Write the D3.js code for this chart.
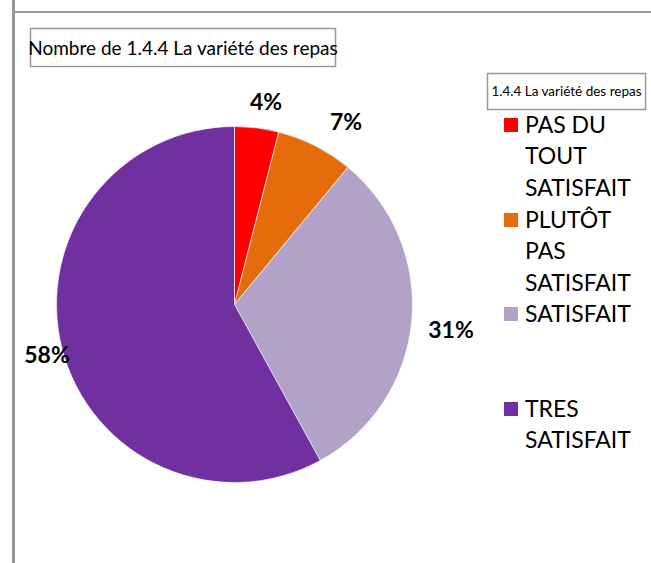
<!DOCTYPE html>
<html>
<head>
<meta charset="utf-8">
<script src="https://cdn.jsdelivr.net/npm/d3@7"></script>
<style>
  html, body { margin: 0; padding: 0; background: #fff; }
  svg { display: block; }
</style>
</head>
<body>
<svg id="chart" width="651" height="563"></svg>
<script>
const categories = ["PAS DU TOUT SATISFAIT", "PLUTÔT PAS SATISFAIT", "SATISFAIT", "TRES SATISFAIT"];
const legendLines = [["PAS DU", "TOUT", "SATISFAIT"], ["PLUTÔT", "PAS", "SATISFAIT"], ["SATISFAIT"], ["TRES", "SATISFAIT"]];
const values = [4, 7, 31, 58];
const labels = ["4%", "7%", "31%", "58%"];
const colors = ["#FF0000", "#E46C0A", "#B3A2C7", "#7030A0"];
const title = "Nombre de 1.4.4 La variété des repas";
const legendTitle = "1.4.4 La variété des repas";

const svg = d3.select("#chart");
const font = "Lato, 'Open Sans', sans-serif";

// frame lines
svg.append("rect").attr("x", 12).attr("y", 0).attr("width", 3).attr("height", 563).attr("fill", "#999");
svg.append("rect").attr("x", 15).attr("y", 11).attr("width", 636).attr("height", 2).attr("fill", "#999");

// title
svg.append("rect").attr("x", 30.5).attr("y", 28.5).attr("width", 305).attr("height", 38)
  .attr("fill", "#fff").attr("stroke", "#999").attr("stroke-width", 1.5);
svg.append("text").attr("x", 183).attr("y", 55).attr("text-anchor", "middle")
  .attr("font-family", font).attr("font-size", 19).attr("fill", "#000").text(title);

// pie
const cx = 234.5, cy = 304.5, r = 178;
const pie = d3.pie().sort(null).value(d => d)(values);
const arc = d3.arc().innerRadius(0).outerRadius(r);
const g = svg.append("g").attr("transform", `translate(${cx},${cy})`);
g.selectAll("path").data(pie).join("path")
  .attr("d", arc)
  .attr("fill", (d, i) => colors[i])
  .attr("stroke", "#fff").attr("stroke-width", 0.6);

// data labels
const labelPos = [[266, 102], [346, 122], [451, 330], [47, 355]];
svg.selectAll("text.lbl").data(pie).join("text").attr("class", "lbl")
  .attr("x", (d, i) => labelPos[i][0])
  .attr("y", (d, i) => labelPos[i][1] + 8)
  .attr("text-anchor", "middle")
  .attr("font-family", font).attr("font-weight", "bold").attr("font-size", 23)
  .attr("fill", "#000").text((d, i) => labels[i]);

// legend
svg.append("rect").attr("x", 487.5).attr("y", 73.5).attr("width", 158).attr("height", 36)
  .attr("fill", "#fff").attr("stroke", "#999").attr("stroke-width", 1.5);
svg.append("text").attr("x", 566.5).attr("y", 96).attr("text-anchor", "middle")
  .attr("font-family", font).attr("font-size", 13.5).attr("fill", "#000").text(legendTitle);

const squareY = [118, 213, 307, 402];
const lineH = 31.5;
const lg = svg.append("g");
categories.forEach((c, i) => {
  lg.append("rect").attr("x", 504).attr("y", squareY[i]).attr("width", 14).attr("height", 14).attr("fill", colors[i]);
  legendLines[i].forEach((ln, j) => {
    lg.append("text").attr("x", 525).attr("y", squareY[i] + 14.5 + j * lineH)
      .attr("font-family", font).attr("font-size", 23).attr("fill", "#000").text(ln);
  });
});
</script>
</body>
</html>
